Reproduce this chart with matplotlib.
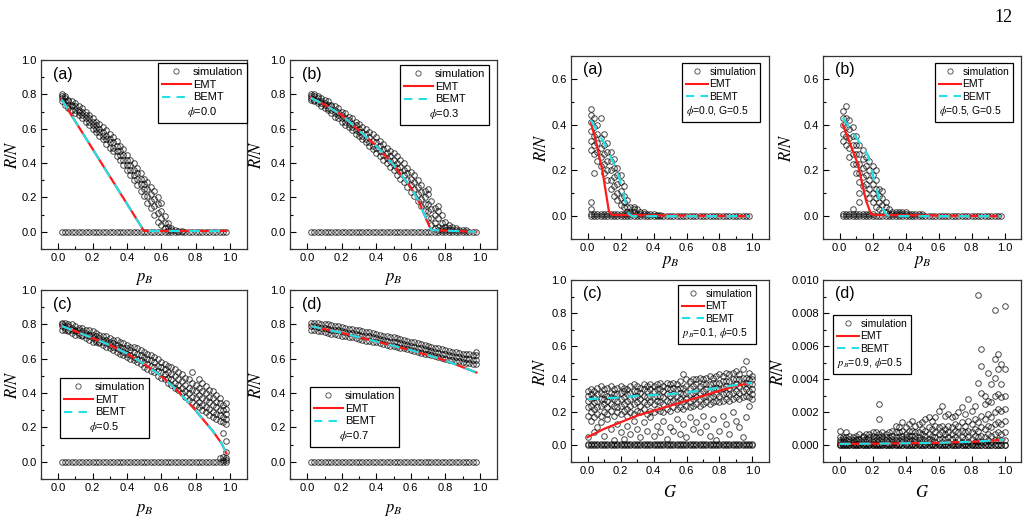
import numpy as np
import matplotlib
matplotlib.use("Agg")
import matplotlib.pyplot as plt
from matplotlib.lines import Line2D
from matplotlib.ticker import MultipleLocator, FormatStrFormatter

plt.rcParams['font.family'] = ['Liberation Sans', 'DejaVu Sans']
plt.rcParams['mathtext.fontset'] = 'stix'

# ---- grids -------------------------------------------------------------
pb = [0.02, 0.04, 0.06, 0.08, 0.10, 0.12, 0.14, 0.16, 0.18, 0.20,
      0.22, 0.24, 0.26, 0.28, 0.30, 0.32, 0.34, 0.36, 0.38, 0.40,
      0.42, 0.44, 0.46, 0.48, 0.50, 0.52, 0.54, 0.56, 0.58, 0.60,
      0.62, 0.64, 0.66, 0.68, 0.70, 0.72, 0.74, 0.76, 0.78, 0.80,
      0.82, 0.84, 0.86, 0.88, 0.90, 0.92, 0.94, 0.96, 0.98]
gg = [0.00, 0.02, 0.04, 0.06, 0.08, 0.10, 0.12, 0.14, 0.16, 0.18,
      0.20, 0.22, 0.24, 0.26, 0.28, 0.30, 0.32, 0.34, 0.36, 0.38,
      0.40, 0.42, 0.44, 0.46, 0.48, 0.50, 0.52, 0.54, 0.56, 0.58,
      0.60, 0.62, 0.64, 0.66, 0.68, 0.70, 0.72, 0.74, 0.76, 0.78,
      0.80, 0.82, 0.84, 0.86, 0.88, 0.90, 0.92, 0.94, 0.96, 0.98, 1.00]

# ---- simulation clouds (one list per grid column) ----------------------
sim_a = [[.76, .78, .79, .80], [.74, .76, .78, .79], [.72, .74, .76, .77], [.71, .73, .74, .76],
         [.69, .71, .73, .75], [.68, .70, .71, .73], [.66, .68, .70, .72], [.64, .66, .68, .70],
         [.62, .64, .66, .68], [.60, .62, .64, .66], [.58, .60, .62, .64], [.56, .58, .60, .63],
         [.54, .56, .58, .61], [.51, .54, .56, .59], [.49, .52, .54, .57], [.47, .49, .52, .55],
         [.44, .47, .50, .53], [.42, .45, .47, .50], [.39, .42, .45, .48], [.36, .39, .42, .45],
         [.33, .36, .39, .42], [.30, .33, .36, .40], [.27, .31, .34, .37], [.24, .28, .31, .34],
         [.21, .25, .28, .31], [.17, .21, .25, .29], [.14, .18, .22, .26], [.10, .15, .19, .24],
         [.06, .11, .16, .20], [.04, .08, .12, .17], [.02, .05, .09], [.01, .03, .05], [.01, .02],
         [.01], [.005], [.005], [], [], [], [], [], [], [], [], [], [], [], [], []]

sim_b = [[.77, .78, .79, .80], [.76, .77, .79, .80], [.75, .76, .78, .79], [.73, .75, .76, .78],
         [.72, .74, .75, .77], [.71, .72, .74, .76], [.69, .71, .73, .74], [.67, .69, .71, .73],
         [.66, .68, .70, .72], [.64, .66, .68, .70], [.62, .64, .66, .69], [.61, .63, .65, .67],
         [.59, .61, .63, .66], [.57, .59, .62, .64], [.56, .58, .60, .63], [.54, .56, .58, .61],
         [.52, .54, .57, .60], [.50, .52, .55, .58], [.48, .50, .53, .57], [.46, .49, .52, .55],
         [.44, .47, .50, .53], [.42, .45, .48, .51], [.40, .43, .46, .49], [.38, .41, .44, .47],
         [.36, .39, .42, .46], [.33, .37, .40, .44], [.31, .35, .38, .42], [.29, .33, .36, .40],
         [.26, .30, .34, .37], [.23, .27, .31, .35], [.21, .25, .29, .33], [.18, .22, .26, .30],
         [.15, .19, .23, .27], [.12, .16, .20, .24], [.08, .12, .16, .22, .25], [.04, .08, .13, .18],
         [.02, .05, .10, .14], [.01, .03, .08, .12, .15], [.01, .02, .05, .10], [.01, .03, .06],
         [.01, .02, .04], [.01, .03], [.01, .02], [.01], [.01], [.01], [], [], []]

sim_c = [[.77, .79, .80, .81], [.77, .78, .79, .81], [.76, .77, .79, .80], [.75, .77, .78, .80],
         [.74, .76, .77, .79], [.74, .75, .77, .78], [.73, .74, .76, .78], [.72, .74, .75, .77],
         [.71, .73, .74, .77], [.70, .72, .74, .76], [.70, .71, .73, .75], [.69, .70, .72, .74],
         [.68, .70, .71, .73], [.67, .69, .71, .73], [.66, .68, .70, .72], [.65, .67, .69, .71],
         [.64, .66, .68, .71], [.63, .65, .67, .70], [.62, .64, .66, .69], [.61, .63, .66, .68],
         [.60, .62, .65, .67], [.59, .61, .64, .67], [.58, .60, .63, .66], [.57, .59, .62, .65],
         [.55, .58, .61, .64], [.54, .57, .60, .63], [.53, .56, .59, .62], [.52, .55, .58, .61],
         [.50, .53, .56, .60], [.49, .52, .55, .58], [.48, .51, .54, .57], [.46, .49, .52, .56],
         [.45, .48, .51, .55], [.43, .46, .50, .54], [.42, .45, .48, .52], [.40, .43, .47, .51],
         [.38, .41, .45, .49], [.36, .40, .43, .48], [.35, .38, .42, .46, .52], [.33, .37, .41, .45],
         [.32, .35, .39, .43, .48], [.30, .33, .37, .41, .46], [.29, .32, .36, .40, .44],
         [.27, .31, .35, .38, .42], [.26, .29, .33, .37, .41], [.25, .28, .32, .35, .39],
         [.24, .27, .30, .34, .37, .02], [.17, .23, .26, .30, .33, .01, .03],
         [.06, .12, .22, .25, .28, .31, .34, .01, .02]]

sim_d = [[.77, .79, .81], [.77, .79, .81], [.76, .785, .81], [.76, .78, .80], [.755, .78, .80],
         [.75, .775, .80], [.745, .77, .795], [.745, .77, .79], [.74, .765, .79], [.735, .76, .785],
         [.73, .755, .78], [.725, .75, .775], [.725, .75, .775], [.72, .745, .77], [.715, .74, .765],
         [.71, .735, .76], [.705, .73, .755], [.705, .73, .755], [.70, .725, .75], [.695, .72, .745],
         [.69, .715, .74], [.685, .71, .735], [.68, .705, .73], [.675, .70, .725], [.675, .70, .725],
         [.67, .695, .72], [.665, .69, .715], [.66, .685, .71], [.655, .68, .705], [.65, .675, .70],
         [.645, .67, .695], [.64, .665, .69], [.635, .66, .685], [.63, .655, .68], [.625, .65, .675],
         [.62, .645, .67], [.615, .64, .665], [.61, .635, .66], [.605, .63, .655], [.60, .625, .65],
         [.595, .62, .645], [.59, .615, .64], [.585, .61, .64], [.585, .61, .635], [.58, .605, .63],
         [.575, .60, .63], [.575, .60, .625], [.57, .595, .62], [.57, .595, .62, .64]]

sim_ra = [[.29, .33, .37, .41, .44, .47, .06, .03, .01], [.27, .31, .35, .39, .43, .19, .01],
          [.24, .28, .32, .36, .40, .01], [.22, .26, .30, .34, .43, .01], [.19, .23, .27, .31, .36, .01],
          [.16, .20, .24, .28, .32, .01], [.12, .16, .20, .24, .28, .01], [.09, .13, .17, .21, .25, .01],
          [.07, .10, .14, .18, .21, .01], [.05, .08, .11, .15, .18, .01], [.04, .06, .09, .13, .01],
          [.02, .04, .07, .01], [.02, .04, .01], [.02, .03, .04], [.01, .03], [.01, .02], [.01, .02],
          [.01], [.01], [.01], [.005], [.005], [], [], [], [], [], [], [], [], [], [], [], [], [], [],
          [], [], [], [], [], [], [], [], [], [], [], [], []]

sim_rb = [[.33, .36, .40, .43, .46, .01], [.31, .35, .39, .43, .48, .01], [.26, .30, .34, .38, .42, .01],
          [.23, .27, .31, .35, .39, .03, .01], [.19, .23, .27, .31, .35, .01],
          [.15, .19, .23, .27, .31, .06, .10, .01], [.13, .17, .21, .25, .29, .01],
          [.10, .14, .18, .22, .26, .01], [.08, .12, .16, .20, .24, .01], [.06, .10, .14, .18, .22, .01],
          [.04, .08, .12, .16, .20], [.03, .06, .09, .12], [.02, .05, .08, .11], [.02, .04, .06],
          [.01, .03], [.01, .02], [.01, .02], [.01, .02], [.01, .02], [.01, .02], [.01], [.01], [.01],
          [.01], [.01], [], [], [], [], [], [], [], [], [], [], [], [], [], [], [], [], [], [], [], [],
          [], [], [], []]

sim_rc = [[.18, .23, .27, .30, .33, .05, .01], [.20, .24, .28, .31, .34, .15, .01],
          [.17, .22, .26, .29, .33, .08, .01], [.19, .23, .27, .31, .35, .11, .01],
          [.18, .24, .28, .32, .36, .14, .01], [.20, .25, .28, .31, .34, .06, .01],
          [.19, .23, .27, .30, .35, .16, .01], [.21, .25, .29, .32, .36, .10, .01],
          [.18, .24, .28, .31, .34, .03, .01], [.20, .23, .27, .31, .35, .13, .01],
          [.19, .24, .28, .32, .36, .08, .01], [.21, .25, .29, .33, .35, .04, .01],
          [.18, .22, .27, .31, .34, .12, .01], [.20, .24, .28, .32, .36, .07, .01],
          [.19, .25, .29, .33, .37, .15, .01], [.21, .26, .30, .33, .36, .10, .01],
          [.20, .24, .28, .32, .35, .05, .01], [.22, .26, .30, .34, .37, .14, .01],
          [.19, .25, .29, .33, .36, .09, .01], [.21, .26, .30, .34, .37, .17, .01],
          [.20, .25, .29, .33, .36, .06, .01], [.22, .27, .30, .34, .37, .12, .01],
          [.21, .26, .30, .34, .38, .08, .01], [.20, .25, .29, .33, .36, .15, .01],
          [.22, .27, .31, .35, .38, .04, .01], [.21, .26, .30, .34, .37, .11, .01],
          [.23, .27, .31, .35, .38, .09, .01], [.22, .26, .30, .34, .37, .16, .01],
          [.23, .28, .32, .35, .39, .07, .01], [.22, .27, .31, .35, .43, .13, .01],
          [.24, .28, .32, .36, .40, .05, .01], [.23, .27, .31, .35, .39, .17, .01],
          [.24, .28, .32, .36, .40, .10, .01], [.25, .29, .33, .37, .40, .14, .01],
          [.24, .28, .32, .36, .41, .08, .01], [.25, .29, .33, .37, .40, .18, .01],
          [.26, .30, .34, .37, .41, .12, .01], [.25, .29, .33, .37, .42, .06, .01],
          [.26, .30, .34, .38, .41, .16, .01], [.27, .31, .35, .38, .42, .03, .01],
          [.26, .30, .34, .38, .43, .09, .01], [.27, .31, .35, .39, .42, .18, .01],
          [.28, .32, .36, .39, .44, .13, .01], [.27, .31, .35, .39, .43, .07, .01],
          [.28, .32, .36, .40, .44, .20, .01], [.29, .33, .37, .40, .45, .15, .01],
          [.28, .32, .36, .40, .43, .11, .01], [.29, .33, .37, .41, .46, .05, .01],
          [.30, .34, .38, .41, .51, .17, .01], [.29, .33, .37, .40, .44, .24, .01],
          [.31, .34, .37, .40, .42, .28, .01]]

# right (d) in units of 1e-4
sim_rd = [[0, 1, 2, 3, 5, 9], [0, 1, 2, 4, 5], [0, 1, 3, 5, 8], [0, 1, 2, 4, 6], [0, 1, 2, 3, 5],
          [0, 1, 3, 4, 6], [0, 1, 2, 4, 7], [0, 1, 3, 5, 6], [0, 1, 2, 4, 7], [0, 1, 3, 5, 7],
          [0, 1, 2, 4, 6, 8], [0, 1, 3, 5, 8], [0, 1, 3, 5, 7, 16, 25], [0, 1, 2, 4, 6, 8],
          [0, 1, 3, 5, 7], [0, 1, 3, 5, 8], [0, 1, 2, 4, 6, 9], [0, 1, 3, 5, 8, 12],
          [0, 1, 3, 5, 8, 11], [0, 2, 4, 6, 9, 14], [0, 1, 3, 5, 7, 11], [0, 2, 4, 6, 9, 13],
          [0, 1, 3, 6, 9, 15], [0, 2, 4, 6, 8, 12], [0, 1, 3, 5, 8, 13], [0, 2, 4, 7, 10, 14],
          [0, 1, 3, 6, 9, 16], [0, 2, 4, 7, 11, 17], [0, 1, 3, 6, 10, 15], [0, 2, 5, 8, 12, 17],
          [0, 1, 4, 7, 11, 21], [0, 2, 4, 8, 12, 24], [0, 1, 4, 7, 10, 18], [0, 2, 5, 8, 12, 19],
          [0, 1, 4, 7, 11, 17], [0, 2, 5, 9, 13, 18], [0, 1, 4, 8, 12, 20], [0, 2, 5, 9, 14, 23],
          [0, 1, 4, 8, 12, 19], [0, 2, 5, 9, 15, 28], [0, 1, 4, 8, 13, 21], [0, 2, 6, 10, 16, 24],
          [0, 2, 5, 9, 14, 38, 91], [0, 2, 6, 11, 18, 32, 48, 58], [0, 2, 5, 10, 16, 25, 30],
          [0, 3, 7, 12, 19, 27, 44], [0, 2, 6, 11, 17, 26, 37], [0, 3, 7, 13, 20, 30, 41, 52, 82],
          [0, 3, 8, 14, 22, 31, 46, 55], [0, 3, 7, 13, 21, 29, 37, 49], [0, 3, 8, 15, 22, 30, 46, 84]]

# ---- theory curves -----------------------------------------------------
emt_a_x = [0.02, 0.50, 0.98]
emt_a_y = [0.77, 0.005, 0.005]
emt_b_x = [0.02, 0.10, 0.20, 0.30, 0.40, 0.50, 0.60, 0.65, 0.70, 0.72, 0.98]
emt_b_y = [0.78, 0.74, 0.68, 0.59, 0.50, 0.39, 0.26, 0.17, 0.05, 0.01, 0.0]
emt_c_x = [0.02, 0.10, 0.20, 0.30, 0.40, 0.50, 0.60, 0.70, 0.80, 0.90, 0.95, 0.98]
emt_c_y = [0.79, 0.76, 0.72, 0.68, 0.63, 0.57, 0.50, 0.41, 0.30, 0.18, 0.11, 0.05]
emt_d_x = [0.02, 0.20, 0.40, 0.60, 0.80, 0.98]
emt_d_y = [0.79, 0.75, 0.70, 0.65, 0.59, 0.52]

emt_ra_x = [0.02, 0.05, 0.09, 0.13, 0.15, 0.98]
emt_ra_y = [0.41, 0.33, 0.20, 0.02, 0.005, 0.0]
bemt_ra_x = [0.02, 0.10, 0.18, 0.25, 0.27, 0.98]
bemt_ra_y = [0.42, 0.32, 0.20, 0.01, 0.0, 0.0]
emt_rb_x = [0.02, 0.11, 0.16, 0.19, 0.21, 0.98]
emt_rb_y = [0.40, 0.23, 0.07, 0.01, 0.005, 0.0]
bemt_rb_x = [0.02, 0.17, 0.25, 0.28, 0.30, 0.98]
bemt_rb_y = [0.43, 0.27, 0.05, 0.01, 0.0, 0.0]
emt_rc_x = [0.0, 0.1, 0.2, 0.3, 0.4, 0.5, 0.6, 0.7, 0.8, 0.9, 1.0]
emt_rc_y = [0.05, 0.10, 0.14, 0.18, 0.21, 0.24, 0.27, 0.30, 0.33, 0.36, 0.38]
bemt_rc_y = [0.28, 0.285, 0.29, 0.30, 0.305, 0.31, 0.32, 0.335, 0.35, 0.365, 0.38]
emt_rd_x = [0.0, 0.2, 0.4, 0.6, 0.8, 0.9, 1.0]
emt_rd_y = [1.0, 1.1, 1.3, 1.6, 2.2, 2.8, 3.6]  # 1e-4

RED = '#ff1a1a'
CYAN = '#22e0e8'
MEC = (0, 0, 0, 0.72)

W, H = 1029, 524
fig = plt.figure(figsize=(W / 100, H / 100), dpi=100)


def make_ax(x0, y0, x1, y1, ylim, ymaj, ymin):
    ax = fig.add_axes([x0 / W, 1 - y1 / H, (x1 - x0) / W, (y1 - y0) / H])
    ax.set_xlim(-0.1, 1.1)
    ax.set_ylim(*ylim)
    ax.xaxis.set_major_locator(MultipleLocator(0.2))
    ax.xaxis.set_minor_locator(MultipleLocator(0.1))
    ax.yaxis.set_major_locator(MultipleLocator(ymaj))
    ax.yaxis.set_minor_locator(MultipleLocator(ymin))
    ax.tick_params(which='both', direction='in', labelsize=8, width=0.8, pad=3)
    ax.tick_params(which='major', length=4)
    ax.tick_params(which='minor', length=2)
    for s in ax.spines.values():
        s.set_linewidth(0.9)
        s.set_color('#333333')
    return ax


def cloud(ax, xs, cols, scale=1.0):
    px, py = [], []
    for x, col in zip(xs, cols):
        for v in col:
            px.append(x)
            py.append(v * scale)
    # row of runs that died out
    px += list(xs)
    py += [0.0] * len(xs)
    ax.plot(px, py, 'o', ms=4.0, mfc='none', mec=MEC, mew=0.7, zorder=2)


def theory(ax, x, y, xb=None, yb=None):
    if xb is None:
        xb, yb = x, y
    ax.plot(x, y, '-', color=RED, lw=1.6, zorder=3)
    ax.plot(xb, yb, '--', color=CYAN, lw=1.6, dashes=(5, 4), zorder=4)


def legend(ax, px, py, note, fs, hl, align):
    h = [Line2D([], [], ls='none', marker='o', ms=3.8, mfc='none', mec='#444444', mew=0.6),
         Line2D([], [], color=RED, lw=1.5),
         Line2D([], [], color=CYAN, lw=1.5, ls='--', dashes=(4, 3))]
    lg = ax.legend(h, ['simulation', 'EMT', 'BEMT'], loc='upper left',
                   bbox_to_anchor=(px / W, 1 - py / H), bbox_transform=fig.transFigure,
                   fontsize=fs, frameon=True, fancybox=False, framealpha=1,
                   edgecolor='black', borderpad=0.35, labelspacing=0.25,
                   handlelength=hl, handletextpad=0.2, borderaxespad=0,
                   title=note, title_fontsize=fs, alignment=align)
    lg.get_frame().set_linewidth(0.9)
    # put the parameter line under the entries
    lg._legend_box._children.reverse()


def labels(ax, tag, xl, xly, yly_x):
    ax.text(0.06, 0.925, tag, transform=ax.transAxes, fontsize=11.5, va='center')
    ax.set_xlabel(xl, fontsize=12)
    ax.set_ylabel('$R/N$', fontsize=12)
    ax.xaxis.set_label_coords(0.5, xly)
    ax.yaxis.set_label_coords(yly_x, 0.5)


# left group
ax = make_ax(41, 60, 247, 249, (-0.1, 1.0), 0.2, 0.1)
cloud(ax, pb, sim_a)
theory(ax, emt_a_x, emt_a_y)
legend(ax, 158, 63, r'$\phi$=0.0', 8, 2.6, 'center')
labels(ax, '(a)', '$p_B$', -0.115, -0.10)

ax = make_ax(290, 60, 497, 249, (-0.1, 1.0), 0.2, 0.1)
cloud(ax, pb, sim_b)
theory(ax, emt_b_x, emt_b_y)
legend(ax, 400, 65, r'$\phi$=0.3', 8, 2.6, 'center')
labels(ax, '(b)', '$p_B$', -0.115, -0.125)

ax = make_ax(41, 290, 247, 479, (-0.1, 1.0), 0.2, 0.1)
cloud(ax, pb, sim_c)
theory(ax, emt_c_x, emt_c_y)
legend(ax, 60, 378, r'$\phi$=0.5', 8, 2.6, 'center')
labels(ax, '(c)', '$p_B$', -0.12, -0.10)

ax = make_ax(290, 290, 497, 479, (-0.1, 1.0), 0.2, 0.1)
cloud(ax, pb, sim_d)
theory(ax, emt_d_x, emt_d_y)
legend(ax, 310, 387, r'$\phi$=0.7', 8, 2.6, 'center')
labels(ax, '(d)', '$p_B$', -0.12, -0.125)

# right group
ax = make_ax(571, 56, 769, 239, (-0.1, 0.7), 0.2, 0.1)
cloud(ax, pb, sim_ra)
theory(ax, emt_ra_x, emt_ra_y, bemt_ra_x, bemt_ra_y)
legend(ax, 682, 63, r'$\phi$=0.0, G=0.5', 7.5, 2.1, 'left')
labels(ax, '(a)', '$p_B$', -0.08, -0.11)

ax = make_ax(823, 56, 1021, 239, (-0.1, 0.7), 0.2, 0.1)
cloud(ax, pb, sim_rb)
theory(ax, emt_rb_x, emt_rb_y, bemt_rb_x, bemt_rb_y)
legend(ax, 935, 63, r'$\phi$=0.5, G=0.5', 7.5, 2.1, 'left')
labels(ax, '(b)', '$p_B$', -0.08, -0.146)

ax = make_ax(571, 280, 769, 462, (-0.1, 1.0), 0.2, 0.1)
cloud(ax, gg, sim_rc)
theory(ax, emt_rc_x, emt_rc_y, emt_rc_x, bemt_rc_y)
legend(ax, 678, 285, r'$p_B$=0.1, $\phi$=0.5', 7.5, 2.1, 'left')
labels(ax, '(c)', '$G$', -0.12, -0.116)

ax = make_ax(823, 280, 1021, 462, (-0.001, 0.010), 0.002, 0.001)
ax.yaxis.set_major_formatter(FormatStrFormatter('%.3f'))
cloud(ax, gg, sim_rd, scale=1e-4)
theory(ax, emt_rd_x, [v * 1e-4 for v in emt_rd_y])
legend(ax, 833, 315, r'$p_B$=0.9, $\phi$=0.5', 7.5, 2.1, 'left')
labels(ax, '(d)', '$G$', -0.12, -0.187)

fig.text(1003 / W, 1 - 18 / H, '12', fontsize=13, family='Liberation Serif',
         ha='center', va='center')

fig.savefig('out.png', dpi=100)
